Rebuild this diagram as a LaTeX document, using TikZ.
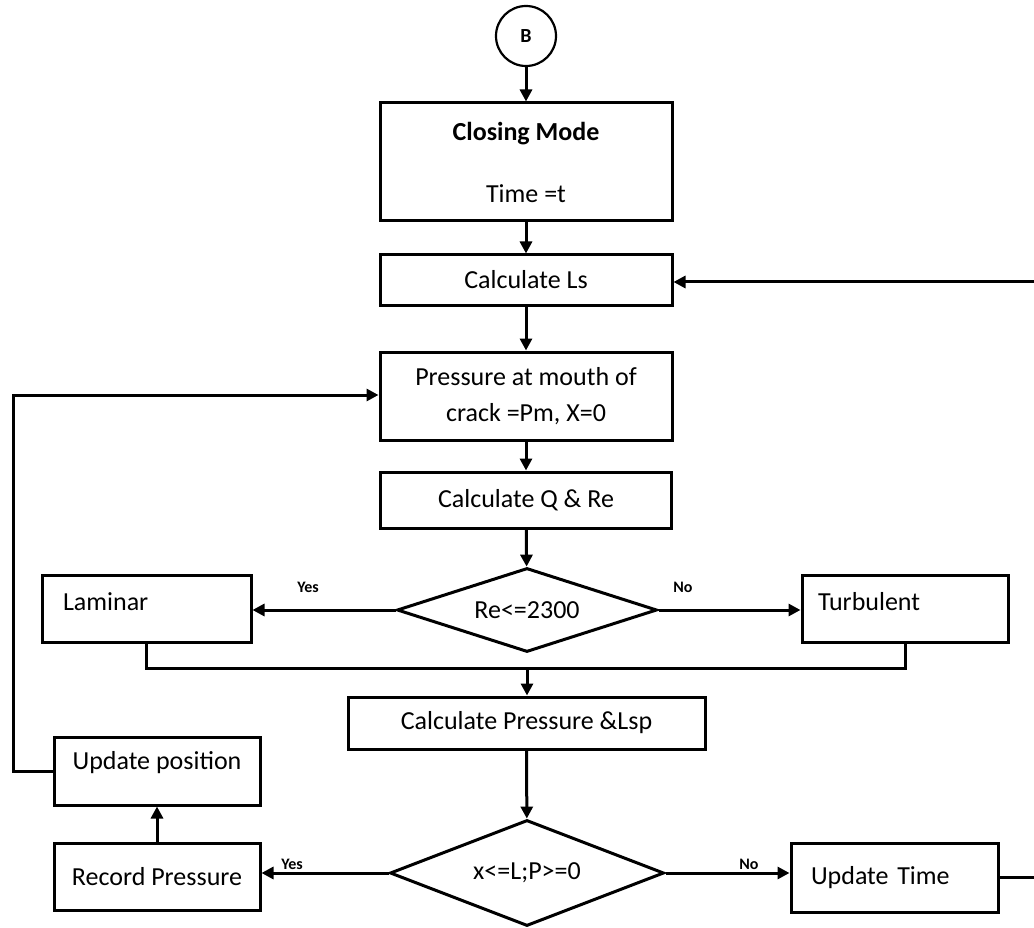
\documentclass[tikz,border=0pt]{standalone}
\usepackage{fontspec}
\setmainfont{Carlito}
\usetikzlibrary{shapes.geometric,arrows.meta}
\begin{document}
\begin{tikzpicture}[x=1pt,y=-1pt,
  line width=3pt,
  every node/.style={font=\fontsize{26}{36}\selectfont},
  box/.style={draw, rectangle, inner sep=0pt, align=center},
  lbox/.style={draw, rectangle, inner sep=0pt, align=left},
  dec/.style={draw, diamond, inner sep=0pt},
  term/.style={draw, circle, inner sep=0pt, minimum size=60pt, line width=2.2pt},
  flow/.style={-{Triangle[length=12pt,width=12pt]}},
  lab/.style={font=\fontsize{16}{18}\selectfont\bfseries, inner sep=0pt}
]
\clip (0,0) rectangle (1034,928);
\fill[white] (0,0) rectangle (1034,928);

\node[term] (B) at (526,36) {\fontsize{20}{22}\selectfont\bfseries B};
\node[box, minimum width=292pt, minimum height=118pt] (closing) at (526,162)
  {\textbf{Closing Mode}\\[26pt]Time =t};
\node[box, minimum width=292pt, minimum height=50pt] (calcLs) at (526,280) {Calculate Ls};
\node[box, minimum width=292pt, minimum height=88pt] (press) at (526,396)
  {Pressure at mouth of\\crack =Pm, X=0};
\node[box, minimum width=291pt, minimum height=56pt] (calcQ) at (526,500) {Calculate Q \& Re};
\node[dec, shape aspect=3.1, minimum width=260pt, minimum height=84pt] (dec1) at (527,610) {Re<=2300};
\node[lbox, minimum width=209pt, minimum height=67pt, text width=167pt, text height=18pt, text depth=14pt] (laminar) at (146.5,608.5)
  {Laminar};
\node[lbox, minimum width=206pt, minimum height=67pt, text width=174pt, text height=18pt, text depth=14pt] (turb) at (905,608.5)
  {Turbulent};
\coordinate (merge) at (527,668);
\node[box, minimum width=357pt, minimum height=52pt] (calcP) at (526.5,723) {Calculate Pressure \&Lsp};
\node[dec, shape aspect=2.6, minimum width=274pt, minimum height=106pt] (dec2) at (527,873) {x<=L;P>=0};
\node[box, minimum width=206pt, minimum height=68pt, text height=18pt, text depth=22pt] (updpos) at (157,771)
  {Update position};
\node[box, minimum width=206pt, minimum height=67pt] (record) at (157,876.5) {Record Pressure};
\node[lbox, minimum width=207pt, minimum height=69pt, text width=167pt] (updtime) at (894.5,877.5)
  {Update Time};

\node[lab] (yes1) at (308,587) {Yes};
\node[lab] (no1) at (683,587) {No};
\node[lab] (yes2) at (292,864) {Yes};
\node[lab] (no2) at (749,864) {No};

\coordinate (lpL) at (13,771);
\coordinate (lpT) at (13,395);
\coordinate (rpB) at (1045,877);
\coordinate (rpT) at (1045,282);

\draw[flow] (B) -- (closing);
\draw[flow] (closing) -- (calcLs);
\draw[flow] (calcLs) -- (press);
\draw[flow] (press) -- (calcQ);
\draw[flow] (calcQ) -- (dec1);
\draw[flow] (dec1.west) -- (laminar.east |- dec1.west);
\draw[flow] (dec1.east) -- (turb.west |- dec1.east);
\draw (laminar.south) |- (merge) -| (turb.south);
\draw[flow] (merge) -- (merge |- calcP.north);
\draw[flow] (calcP) -- (dec2);
\draw[flow] (dec2.west) -- (record.east |- dec2.west);
\draw[flow] (dec2.east) -- (updtime.west |- dec2.east);
\draw[flow] (record) -- (updpos);
\draw[flow] (updpos.west) -- (lpL) -- (lpT) -- (press.west |- lpT);
\draw[flow] (updtime.east |- rpB) -- (rpB) -- (rpT) -- (calcLs.east |- rpT);
\end{tikzpicture}
\end{document}
